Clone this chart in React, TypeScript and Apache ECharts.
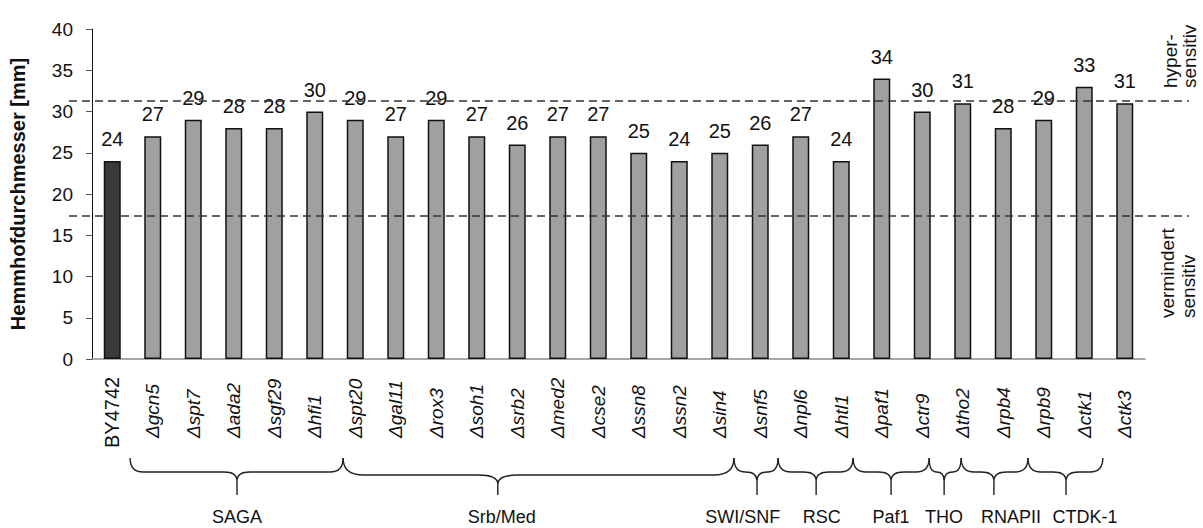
import React, { useEffect, useRef } from "react";
import * as echarts from "echarts";

// ---------- data ----------
const categories = [
  "BY4742", "Δgcn5", "Δspt7", "Δada2", "Δsgf29", "Δhfi1", "Δspt20",
  "Δgal11", "Δrox3", "Δsoh1", "Δsrb2", "Δmed2", "Δcse2", "Δssn8", "Δssn2", "Δsin4",
  "Δsnf5", "Δnpl6", "Δhtl1", "Δpaf1", "Δctr9", "Δtho2", "Δrpb4", "Δrpb9", "Δctk1", "Δctk3",
];
const values = [24, 27, 29, 28, 28, 30, 29, 27, 29, 27, 26, 27, 27, 25, 24, 25, 26, 27, 24, 34, 30, 31, 28, 29, 33, 31];
const thresholds = [31.3, 17.4];
const yTicks = { min: 0, max: 40, interval: 5 };
const groupNames = ["SAGA", "Srb/Med", "SWI/SNF", "RSC", "Paf1", "THO", "RNAPII", "CTDK-1"];
const yAxisName = "Hemmhofdurchmesser [mm]";
const upperNote = "hyper-\nsensitiv";
const lowerNote = "vermindert\nsensitiv";

// ---------- layout (category units) ----------
const braceLayout = [
  [0.94, 3.58, 6.2],
  [6.2, 10.02, 15.85],
  [15.85, 16.42, 16.94],
  [16.94, 17.88, 18.79],
  [18.79, 19.73, 20.67],
  [20.67, 21.04, 21.46],
  [21.46, 22.27, 23.11],
  [23.11, 24.05, 24.96],
];
const groupLabelCenters = [3.58, 10.12, 16.07, 18.02, 19.73, 21.04, 22.69, 24.52];

const W = 1203;
const H = 528;
const GRID = { left: 92, right: 58, top: 29, bottom: 169 };
const FONT = "'Liberation Sans', Arial, Helvetica, sans-serif";

let braceRegistered = false;
function registerBrace() {
  if (braceRegistered) return;
  braceRegistered = true;
  const Brace = (echarts.graphic as any).extendShape({
    type: "brace",
    shape: { x0: 0, x1: 0, xp: 0, y0: 0, ym: 0, y1: 0, r: 12 },
    buildPath(ctx: any, s: any) {
      const rl = Math.min(s.r, (s.xp - s.x0) / 2);
      const rr = Math.min(s.r, (s.x1 - s.xp) / 2);
      const yc = s.ym + 9;
      ctx.moveTo(s.x0, s.y0);
      ctx.quadraticCurveTo(s.x0, s.ym, s.x0 + rl, s.ym);
      ctx.lineTo(s.xp - rl, s.ym);
      ctx.quadraticCurveTo(s.xp, s.ym, s.xp, yc);
      ctx.lineTo(s.xp, s.y1);
      ctx.moveTo(s.x1, s.y0);
      ctx.quadraticCurveTo(s.x1, s.ym, s.x1 - rr, s.ym);
      ctx.lineTo(s.xp + rr, s.ym);
      ctx.quadraticCurveTo(s.xp, s.ym, s.xp, yc);
    },
  });
  (echarts.graphic as any).registerShape("brace", Brace);
}

export default function App() {
  const ref = useRef<HTMLDivElement>(null);

  useEffect(() => {
    document.body.style.margin = "0";
    registerBrace();
    const chart = echarts.init(ref.current!, undefined, { renderer: "svg" });

    const catW = (W - GRID.left - GRID.right) / categories.length;
    const cx = (u: number) => GRID.left + u * catW;

    const braces = braceLayout.map((b, i) => ({
      type: "brace",
      silent: true,
      shape: {
        x0: cx(b[0]),
        xp: cx(b[1]),
        x1: cx(b[2]),
        y0: 458,
        ym: i === 1 ? 475 : 472,
        y1: 495,
        r: i === 1 ? 20 : 13,
      },
      style: { fill: "none", stroke: "#222", lineWidth: 1.4 },
    }));

    const groupTexts = groupNames.map((name, i) => ({
      type: "text",
      silent: true,
      x: cx(groupLabelCenters[i]),
      y: 517,
      style: {
        text: name,
        fontSize: 18,
        fontFamily: FONT,
        fill: "#111",
        align: "center",
        verticalAlign: "middle",
      },
    }));

    chart.setOption({
      animation: false,
      textStyle: { fontFamily: FONT },
      grid: [
        { left: GRID.left, right: GRID.right, top: GRID.top, bottom: GRID.bottom, containLabel: false },
        { left: 69, right: 14, top: GRID.top, bottom: GRID.bottom, containLabel: false },
      ],
      xAxis: [
        {
          type: "category",
          gridIndex: 0,
          data: categories,
          axisTick: { show: false },
          axisLine: { lineStyle: { color: "#8a8a8a", width: 1.5 } },
          axisLabel: {
            interval: 0,
            rotate: 90,
            align: "left",
            margin: 89,
            color: "#111",
            formatter: (v: string) => (v.startsWith("Δ") ? `{g|${v}}` : `{b|${v}}`),
            rich: {
              g: { fontSize: 19, fontStyle: "italic", fontFamily: FONT, color: "#111", padding: [0, 0, 0, 10] },
              b: { fontSize: 20, fontFamily: FONT, color: "#111" },
            },
          },
        },
        { type: "value", gridIndex: 1, min: 0, max: 1, show: false },
      ],
      yAxis: [
        {
          type: "value",
          gridIndex: 0,
          min: yTicks.min,
          max: yTicks.max,
          interval: yTicks.interval,
          name: yAxisName,
          nameLocation: "middle",
          nameGap: 64,
          nameTextStyle: { fontSize: 20, fontWeight: "bold", color: "#111", fontFamily: FONT },
          axisLine: { show: true, lineStyle: { color: "#111", width: 1 } },
          axisTick: { show: true, inside: false, length: 6, lineStyle: { color: "#555" } },
          axisLabel: { fontSize: 19, color: "#111", margin: 19 },
          splitLine: { show: false },
        },
        { type: "value", gridIndex: 1, min: yTicks.min, max: yTicks.max, show: false },
      ],
      series: [
        {
          type: "bar",
          xAxisIndex: 0,
          yAxisIndex: 0,
          data: values,
          barWidth: 17,
          itemStyle: {
            color: (p: any) => (p.dataIndex === 0 ? "#3a3a3a" : "#a0a0a0"),
            borderColor: "#111",
            borderWidth: 1.5,
          },
          label: {
            show: true,
            position: "top",
            distance: 12,
            fontSize: 20,
            color: "#111",
            fontFamily: FONT,
          },
        },
        {
          type: "line",
          xAxisIndex: 1,
          yAxisIndex: 1,
          data: [],
          silent: true,
          markLine: {
            silent: true,
            symbol: ["none", "none"],
            label: { show: false },
            lineStyle: { type: [8, 5], color: "#333", width: 1.5 },
            data: thresholds.map((t) => ({ yAxis: t })),
          },
        },
      ],
      graphic: [
        ...braces,
        ...groupTexts,
        {
          type: "text",
          silent: true,
          x: 1161,
          y: 88,
          rotation: Math.PI / 2,
          style: {
            text: upperNote,
            fontSize: 19,
            lineHeight: 19,
            fontFamily: FONT,
            fill: "#111",
            align: "left",
            verticalAlign: "top",
          },
        },
        {
          type: "text",
          silent: true,
          x: 1157,
          y: 318,
          rotation: Math.PI / 2,
          style: {
            text: lowerNote,
            fontSize: 19,
            lineHeight: 21,
            fontFamily: FONT,
            fill: "#111",
            align: "left",
            verticalAlign: "top",
          },
        },
      ],
    });

    return () => chart.dispose();
  }, []);

  return <div ref={ref} style={{ width: W, height: H }} />;
}
